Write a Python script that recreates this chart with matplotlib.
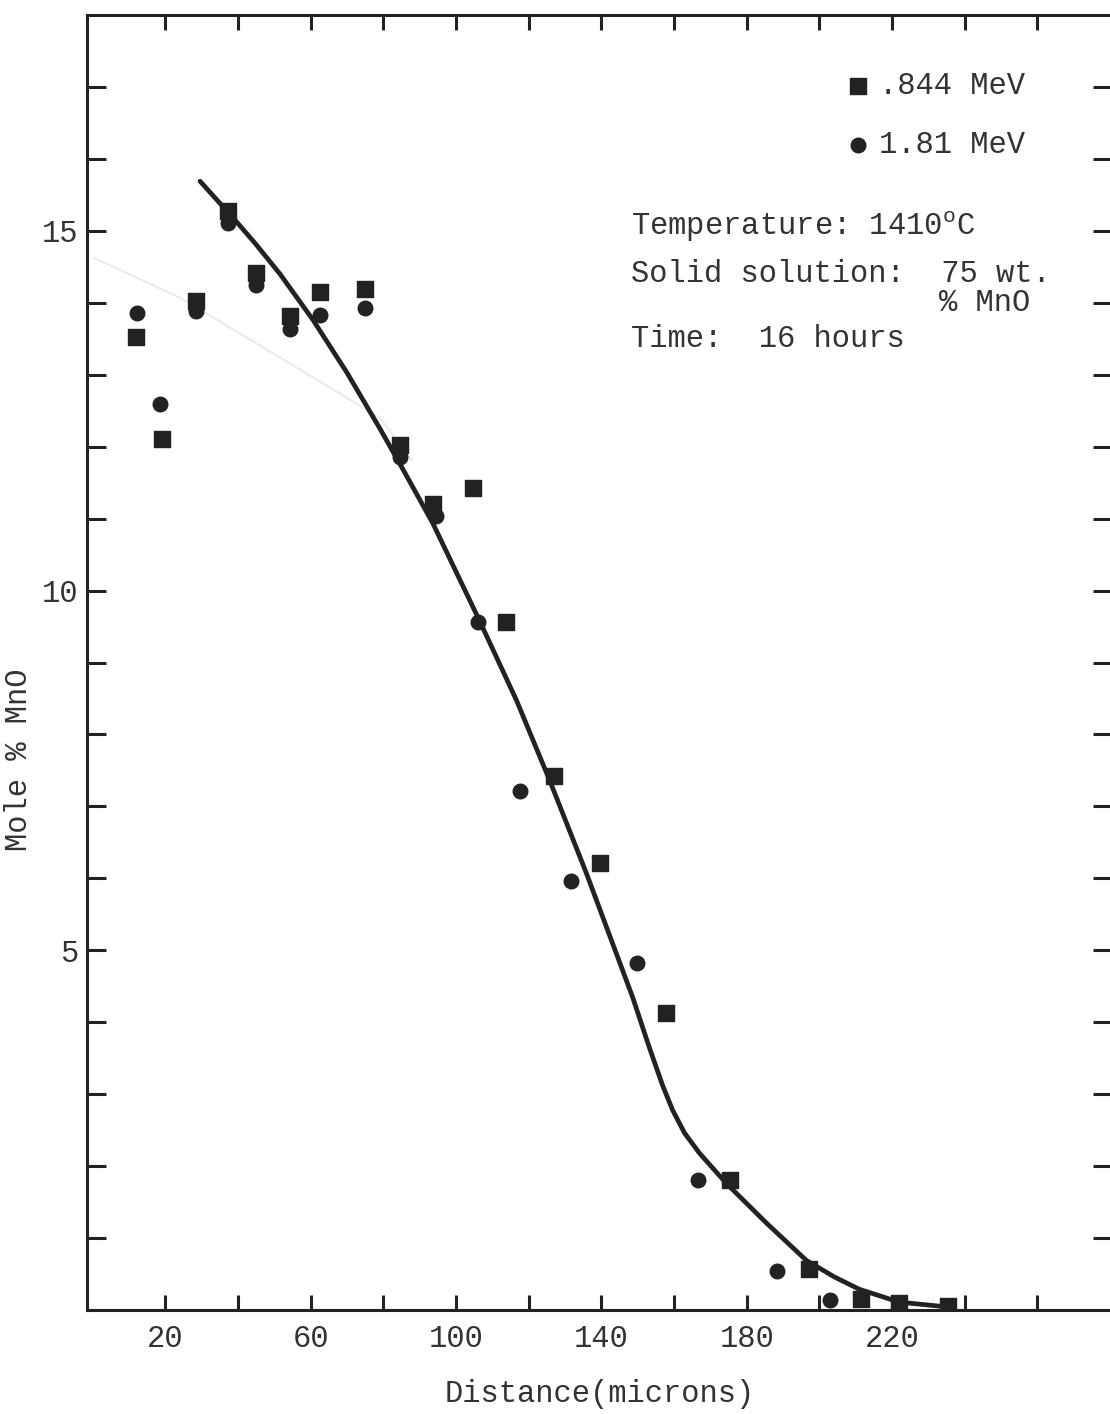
import matplotlib
matplotlib.use("Agg")
import matplotlib.pyplot as plt
import numpy as np

FONT = "Liberation Mono"
FS = 22

# .844 MeV (squares)
x_sq = [12.0, 19.2, 28.5, 37.4, 45.1, 54.4, 62.7, 75.1, 84.5, 93.8, 104.6,
        113.7, 126.9, 139.6, 157.7, 175.4, 197.1, 211.5, 221.9, 235.4]
y_sq = [13.53, 12.11, 14.03, 15.28, 14.42, 13.81, 14.15, 14.19, 12.03, 11.21,
        11.43, 9.56, 7.42, 6.22, 4.13, 1.81, 0.57, 0.15, 0.10, 0.06]

# 1.81 MeV (circles)
x_ci = [12.3, 18.6, 28.5, 37.4, 45.1, 54.4, 62.7, 75.1, 84.5, 94.4, 106.2,
        117.5, 131.6, 149.8, 166.6, 188.3, 202.9]
y_ci = [13.86, 12.60, 13.88, 15.11, 14.25, 13.64, 13.83, 13.93, 11.85, 11.03,
        9.56, 7.22, 5.96, 4.82, 1.81, 0.54, 0.14]

# hand drawn fit curve
x_fit = [29.6, 33.7, 38.7, 44.7, 51.6, 60.7, 70.0, 79.1, 84.6, 93.6, 106.5,
         116.7, 125.8, 135.9, 148.6, 153.2, 156.8, 159.6, 162.9, 167.0, 174.4,
         185.4, 196.4, 204.1, 210.9, 221.9, 235.7]
y_fit = [15.69, 15.46, 15.18, 14.83, 14.40, 13.76, 13.03, 12.25, 11.76, 10.94,
         9.58, 8.47, 7.36, 6.07, 4.35, 3.65, 3.13, 2.78, 2.46, 2.18, 1.76,
         1.21, 0.69, 0.46, 0.29, 0.11, 0.04]

# faint pencil line
x_faint = [0.2, 24.1, 51.6, 79.1, 88.1]
y_faint = [14.63, 14.07, 13.24, 12.40, 11.80]

x_labels = [20, 60, 100, 140, 180, 220]
y_labels = [5, 10, 15]

plt.rcParams["font.family"] = [FONT, "DejaVu Sans Mono"]
plt.rcParams["mathtext.fontset"] = "custom"
plt.rcParams["mathtext.rm"] = FONT

fig = plt.figure(figsize=(11.10, 14.14), dpi=100)
W, H = 1110, 1414
ax = fig.add_axes([87 / W, (H - 1310) / H, (1112 - 87) / W, (1310 - 15) / H])

ink = "#222222"
ax.plot(x_faint, y_faint, color="#e8e8e8", lw=1.2, zorder=1)
ax.plot(x_fit, y_fit, color=ink, lw=3.4, zorder=2,
        solid_capstyle="round", solid_joinstyle="round")
ax.scatter(x_sq, y_sq, marker="s", s=125, color=ink, zorder=3, label=".844 MeV")
ax.scatter(x_ci, y_ci, marker="o", s=110, color=ink, zorder=3, label="1.81 MeV")

ax.set_xlim(-1.5, 280.5)
ax.set_ylim(0, 18)

xt = np.arange(20, 261, 20)
ax.set_xticks(xt)
ax.set_xticklabels([str(v) if v in x_labels else "" for v in xt])
yt = np.arange(1, 18)
ax.set_yticks(yt)
ax.set_yticklabels([str(v) if v in y_labels else "" for v in yt])

ax.tick_params(axis="both", direction="in", colors=ink, labelcolor="#333333",
               labelsize=FS, width=2.2, top=True, right=True)
ax.tick_params(axis="y", length=14, pad=6)
ax.tick_params(axis="x", length=11, pad=10)
for s in ax.spines.values():
    s.set_linewidth(2.2)
    s.set_color(ink)

ax.set_xlabel("Distance(microns)", fontsize=FS, color="#333333", labelpad=18)
ax.set_ylabel("Mole % MnO", fontsize=FS, color="#333333")
ax.yaxis.set_label_coords(-0.052, 0.425)

ax.legend(loc="upper left", bbox_to_anchor=(0.71, 0.978), frameon=False,
          fontsize=FS, handletextpad=0.2, labelspacing=0.95, markerscale=1.0,
          handlelength=1.0, labelcolor="#333333")

txt = dict(fontsize=FS, color="#333333", va="center", ha="left")
ax.text(148.3, 15.06, r"Temperature: 1410$^{\mathrm{o}}$C", **txt)
ax.text(148.3, 14.40, "Solid solution:  75 wt.", **txt)
ax.text(232.9, 13.99, "% MnO", **txt)
ax.text(148.3, 13.50, "Time:  16 hours", **txt)

fig.savefig("out.png", dpi=100)
